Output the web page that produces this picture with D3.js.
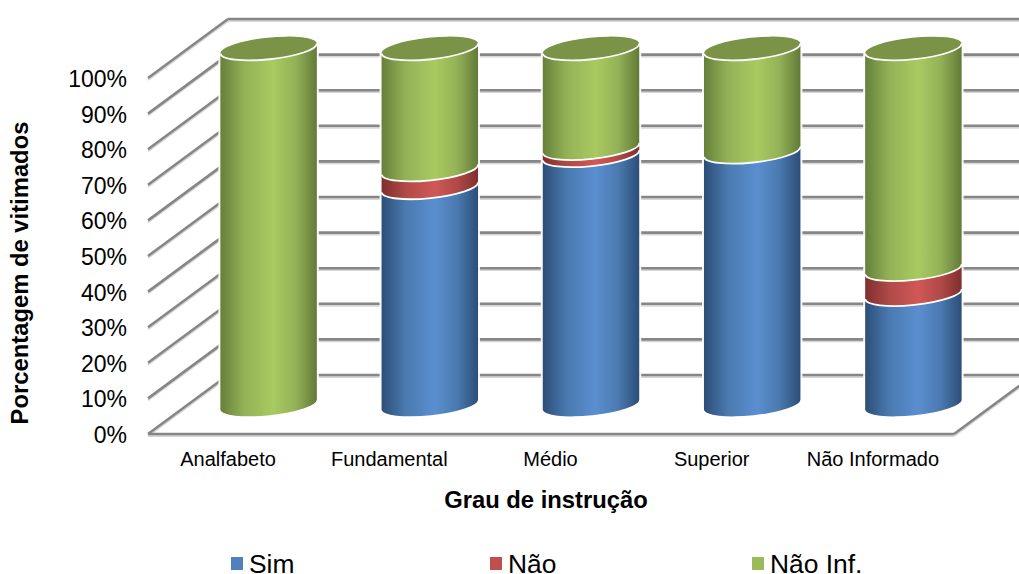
<!DOCTYPE html>
<html><head><meta charset="utf-8">
<script src="https://cdn.jsdelivr.net/npm/d3@7"></script>
<style>html,body{margin:0;padding:0;background:#fff;overflow:hidden}text{font-family:"Liberation Sans",Arial,sans-serif;fill:#000}</style>
</head><body><svg id="c" width="1019" height="574"></svg>
<script>
const categories = ["Analfabeto","Fundamental","Médio","Superior","Não Informado"];
const sim    = [0, 61, 70, 71, 31];
const nao    = [0, 5, 2, 0, 7];
const naoInf = [100, 34, 28, 29, 62];
const yTicks = [0,10,20,30,40,50,60,70,80,90,100];
const seriesNames = ["Sim","Não","Não Inf."];
const seriesColors = ["#4f81bd","#c0504d","#9bbb59"];
const ramps = [["#2c4e77","#4a7ab0","#5a8ecf","#4a7ab0","#2c4e77"],
               ["#7f2f2d","#b04a48","#d05856","#b04a48","#7f2f2d"],
               ["#66803a","#93b257","#a8ca60","#93b257","#627a38"]];
const topColor = "#7b9347";

const svg=d3.select("#c");
const x=d3.scaleBand().domain(categories).range([148,954]);
const y=d3.scaleLinear().domain([0,100]).range([434,78]);
const depth={dx:80,dy:-59};
const rx=48.5, ry=10.8, rot=-6;
const cosT=Math.cos(rot*Math.PI/180), sinT=Math.sin(rot*Math.PI/180);

const defs=svg.append("defs");
ramps.forEach((r,i)=>{
  const g=defs.append("linearGradient").attr("id","g"+i).attr("x1",0).attr("x2",1).attr("y1",0).attr("y2",0);
  [0,0.25,0.55,0.78,1].forEach((o,j)=>g.append("stop").attr("offset",o).attr("stop-color",r[j]));
});
const blur=defs.append("filter").attr("id","soft").attr("x","-5%").attr("y","-5%").attr("width","110%").attr("height","110%");
blur.append("feGaussianBlur").attr("stdDeviation",0.5);

// walls and floor
const grid=svg.append("g").attr("filter","url(#soft)");
function gl(x1,y1,x2,y2){
  grid.append("line").attr("x1",x1).attr("y1",y1+1.8).attr("x2",x2).attr("y2",y2+1.8).attr("stroke","#d6d6d6").attr("stroke-width",2.2);
  grid.append("line").attr("x1",x1).attr("y1",y1).attr("x2",x2).attr("y2",y2).attr("stroke","#868686").attr("stroke-width",2.6);
}
const [x0,x1]=x.range();
yTicks.forEach(t=>{
  gl(x0,y(t),x0+depth.dx,y(t)+depth.dy);
  gl(x0+depth.dx,y(t)+depth.dy,x1+depth.dx,y(t)+depth.dy);
});
gl(x0,y(0),x1,y(0));
gl(x1,y(0),x1+depth.dx,y(0)+depth.dy);

// cylinders
const cx=c=>x(c)+x.bandwidth()/2+depth.dx/2;
const cy=v=>y(v)+depth.dy/2;
const L=(c,v)=>[cx(c)-rx*cosT, cy(v)-rx*sinT];
const R=(c,v)=>[cx(c)+rx*cosT, cy(v)+rx*sinT];
const lowArc=(c,v)=>`A${rx} ${ry} ${rot} 0 1 ${L(c,v)}`;
const lowArcRev=(c,v)=>`A${rx} ${ry} ${rot} 0 0 ${R(c,v)}`;
const upArc=(c,v)=>`A${rx} ${ry} ${rot} 0 1 ${R(c,v)}`;

const bars=svg.append("g");
const series=[sim,nao,naoInf];
categories.forEach((c,i)=>{
  // white halo separating the cylinder from the grid
  bars.append("path")
    .attr("d",`M${L(c,0)}L${L(c,100)}${upArc(c,100)}L${R(c,0)}${lowArc(c,0)}Z`)
    .attr("fill","#fff").attr("stroke","#fff").attr("stroke-width",4).attr("stroke-opacity",0.9);
  let base=0;
  series.forEach((s,k)=>{
    const v=s[i]; if(!v) return;
    const top=base+v;
    const g=bars.append("g");
    g.append("path")
      .attr("d",`M${L(c,base)}${lowArcRev(c,base)}L${R(c,top)}${lowArc(c,top)}Z`)
      .attr("fill",`url(#g${k})`);
    if(base>0) g.append("path").attr("d",`M${R(c,base)}${lowArc(c,base)}`)
      .attr("fill","none").attr("stroke","#fff").attr("stroke-width",1.8);
    base=top;
  });
  bars.append("path")
    .attr("d",`M${L(c,base)}${upArc(c,base)}${lowArc(c,base)}Z`)
    .attr("fill",topColor);
  bars.append("path").attr("d",`M${R(c,base)}${lowArc(c,base)}`)
    .attr("fill","none").attr("stroke","#fff").attr("stroke-width",1.8);
});

// y tick labels
svg.append("g").selectAll("text").data(yTicks).join("text")
  .attr("x",127).attr("y",d=>y(d)+9).attr("text-anchor","end")
  .attr("font-size",23).text(d=>d+"%");
// x labels
svg.append("g").selectAll("text").data(categories).join("text")
  .attr("x",d=>x(d)+x.bandwidth()/2-0.5).attr("y",466).attr("text-anchor","middle")
  .attr("font-size",20).text(d=>d);
// titles
svg.append("text").attr("x",546).attr("y",508).attr("text-anchor","middle")
  .attr("font-size",23.8).attr("font-weight","bold").text("Grau de instrução");
svg.append("text").attr("transform","translate(28,273) rotate(-90)").attr("text-anchor","middle")
  .attr("font-size",23.8).attr("font-weight","bold").text("Porcentagem de vitimados");
// legend
const lx=[231,490,752];
seriesNames.forEach((n,i)=>{
  svg.append("rect").attr("x",lx[i]).attr("y",557).attr("width",12).attr("height",13).attr("fill",seriesColors[i]);
  svg.append("text").attr("x",lx[i]+18).attr("y",573).attr("font-size",26.4).text(n);
});
</script></body></html>
